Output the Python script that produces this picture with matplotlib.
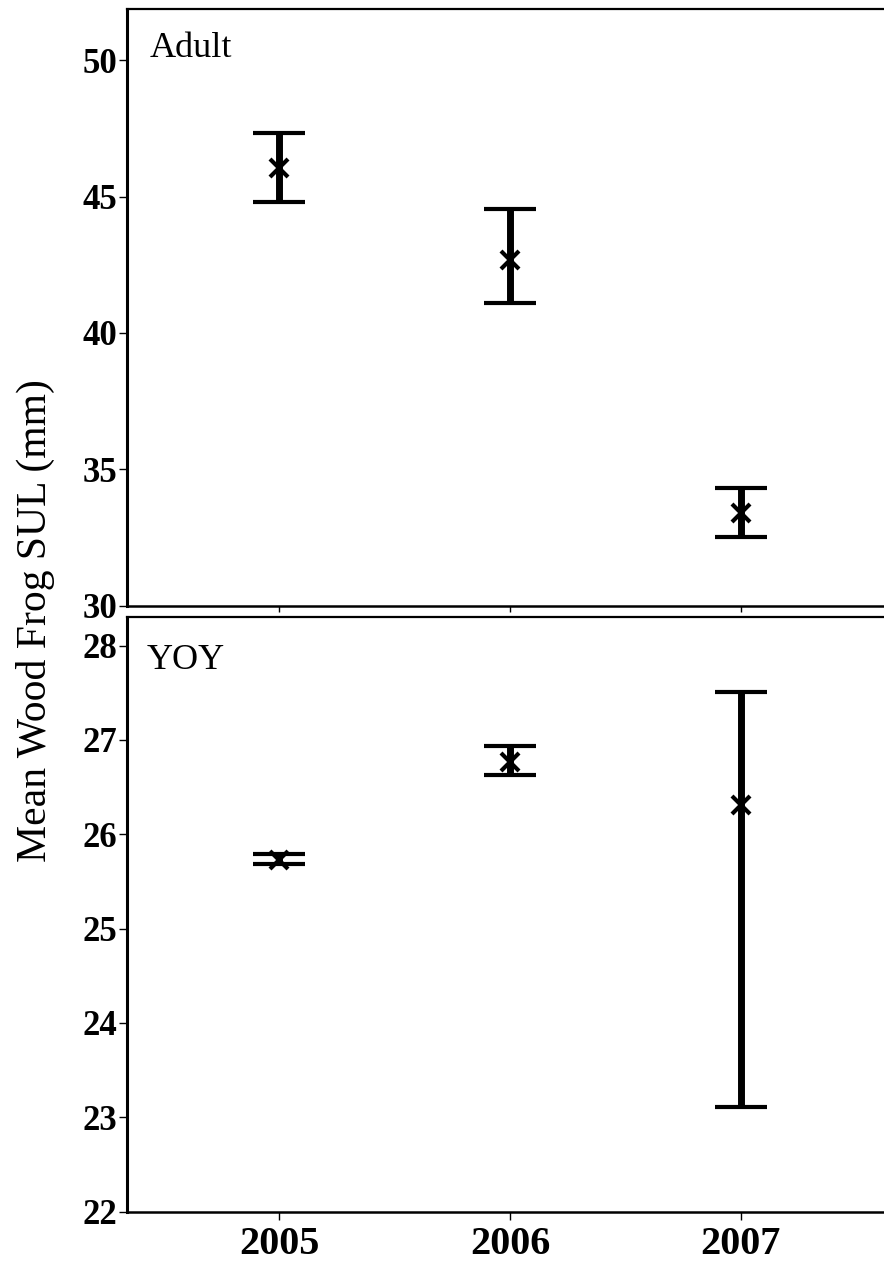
import numpy as np
import matplotlib
matplotlib.use("Agg")
import matplotlib.pyplot as plt

# values (mean and the ends of the error bars)
years = [2005, 2006, 2007]
adult_mean = [46.05, 42.68, 33.39]
adult_low = [44.81, 41.09, 32.53]
adult_high = [47.32, 44.54, 34.33]

yoy_mean = [25.73, 26.77, 26.31]
yoy_low = [25.68, 26.63, 23.11]
yoy_high = [25.79, 26.94, 27.51]

adult_ticks = [30, 35, 40, 45, 50]
yoy_ticks = [22, 23, 24, 25, 26, 27, 28]

plt.rcParams['font.family'] = ['Liberation Serif', 'DejaVu Serif']

fig = plt.figure(figsize=(8.84, 12.61), dpi=100)
ax1 = fig.add_axes([0.1437, 0.5197, 0.8563, 0.4728])
ax2 = fig.add_axes([0.1437, 0.0391, 0.8563, 0.4714])


def draw_panel(ax, mean, low, high):
    mean = np.array(mean)
    yerr = [mean - np.array(low), np.array(high) - mean]
    ax.errorbar(years, mean, yerr=yerr, fmt='x', color='black', ecolor='black',
                elinewidth=5, capsize=19, capthick=4.5, markersize=13, mew=3)
    ax.set_xlim(2004.34, 2007.62)
    ax.spines['right'].set_visible(False)
    ax.spines['left'].set_linewidth(2.2)
    ax.spines['top'].set_linewidth(1.6)
    ax.spines['bottom'].set_linewidth(1.8)
    ax.tick_params(axis='y', direction='out', length=6, width=1, pad=1, labelsize=25)


draw_panel(ax1, adult_mean, adult_low, adult_high)
ax1.set_ylim(30, 51.86)
ax1.set_yticks(adult_ticks)
for lab in ax1.get_yticklabels():
    lab.set_fontweight('bold')
ax1.set_xticks(years)
ax1.tick_params(axis='x', direction='out', length=4, width=1, labelbottom=False)
ax1.text(0.03, 0.962, "Adult", transform=ax1.transAxes, fontsize=26, va='top', ha='left')

draw_panel(ax2, yoy_mean, yoy_low, yoy_high)
ax2.set_ylim(22, 28.30)
ax2.set_yticks(yoy_ticks)
for lab in ax2.get_yticklabels():
    lab.set_fontweight('bold')
ax2.set_xticks(years)
ax2.set_xticklabels([str(y) for y in years], fontweight='bold')
ax2.tick_params(axis='x', direction='out', length=6, width=1, pad=4, labelsize=29)
ax2.text(0.026, 0.955, "YOY", transform=ax2.transAxes, fontsize=26, va='top', ha='left')

fig.text(0.04, 0.508, "Mean Wood Frog SUL (mm)", rotation=90, fontsize=30,
         ha='center', va='center')

fig.savefig("out.png", dpi=100)
